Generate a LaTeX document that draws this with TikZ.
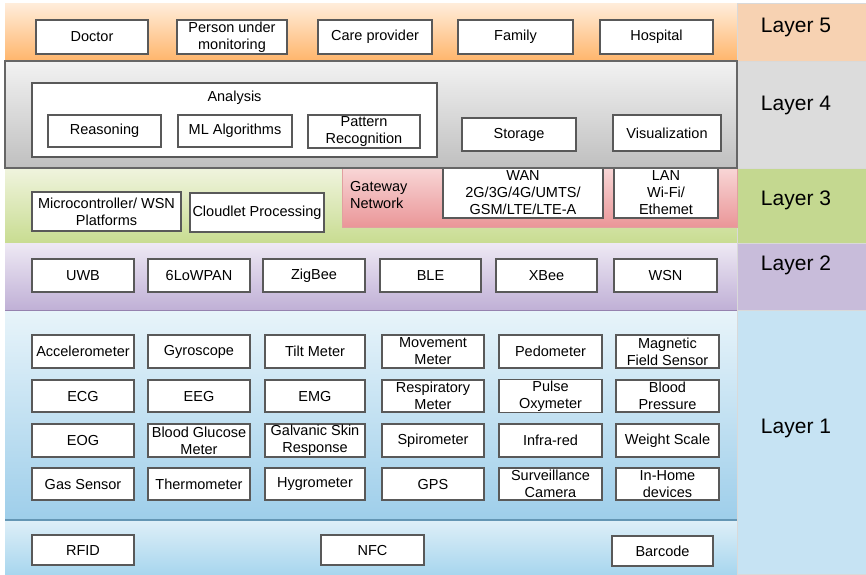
\documentclass[tikz,border=0pt]{standalone}
\usepackage{fontspec}
\setmainfont{Liberation Sans}
\begin{document}
\begin{tikzpicture}[x=1pt,y=-1pt,
  blk/.style={draw=black!65, line width=1.3pt, fill=white, align=center,
    inner sep=1pt, font=\fontsize{14.5}{17}\selectfont},
  txt/.style={inner sep=0pt, align=center, font=\fontsize{14.5}{17}\selectfont},
  layerlbl/.style={inner sep=0pt, font=\fontsize{21}{24}\selectfont},
  cell/.style={draw=black!15, line width=0.6pt}]
\useasboundingbox (0,0) rectangle (866,574);
% box given by its corners: name, x1, y1, x2, y2, text
\newcommand{\blk}[6]{\node[blk, minimum width={(#4-#2)*1pt}, minimum height={(#5-#3)*1pt}]
  (#1) at ({(#2+#4)/2},{(#3+#5)/2}) {#6};}

% ---- layer bands ----
\shade[top color=white!60!orange!35, bottom color=orange!58!white] (5,3) rectangle (737,61);
\shade[top color=black!5, bottom color=black!25] (5,61) rectangle (737,168);
\shade[top color={rgb,255:red,240;green,244;blue,222}, bottom color={rgb,255:red,200;green,220;blue,145}] (5,168) rectangle (737,243);
\shade[top color={rgb,255:red,238;green,233;blue,244}, bottom color={rgb,255:red,192;green,176;blue,214}] (5,243) rectangle (737,310);
\shade[top color={rgb,255:red,232;green,244;blue,250}, bottom color={rgb,255:red,158;green,206;blue,234}] (5,310) rectangle (737,520);
\shade[top color={rgb,255:red,222;green,239;blue,248}, bottom color={rgb,255:red,168;green,214;blue,238}] (5,520) rectangle (737,574);
\draw[line width=1.2pt, color={rgb,255:red,100;green,150;blue,180}] (5,520) -- (737,520);
\draw[line width=0.8pt, color={rgb,255:red,150;green,130;blue,175}] (5,310) -- (737,310);

% ---- right column ----
\fill[cell, fill={rgb,255:red,247;green,210;blue,178}] (737,3) rectangle (866,61);
\fill[cell, fill={rgb,255:red,220;green,220;blue,220}] (737,61) rectangle (866,168);
\fill[cell, fill={rgb,255:red,196;green,216;blue,144}] (737,168) rectangle (866,243);
\fill[cell, fill={rgb,255:red,200;green,188;blue,218}] (737,243) rectangle (866,310);
\fill[cell, fill={rgb,255:red,198;green,227;blue,243}] (737,310) rectangle (866,574);
\draw[black!15, line width=0.8pt] (737,3) -- (737,574)
  (737,61) -- (866,61) (737,168) -- (866,168) (737,243) -- (866,243) (737,310) -- (866,310);

\node[layerlbl] (l5) at (796,27) {Layer 5};
\node[layerlbl] (l4) at (796,105) {Layer 4};
\node[layerlbl] (l3) at (796,200) {Layer 3};
\node[layerlbl] (l2) at (796,265) {Layer 2};
\node[layerlbl] (l1) at (796,428) {Layer 1};

% ---- Layer 5 ----
\blk{doctor}{36}{20}{148}{54}{Doctor}
\blk{person}{177}{20}{287}{54}{Person under\\monitoring}
\blk{care}{318}{20}{432}{54}{Care provider}
\blk{family}{458}{20}{573}{54}{Family}
\blk{hospital}{600}{20}{713}{54}{Hospital}

% ---- Layer 4 ----
\blk{analysis}{32}{83}{437}{157}{}
\node[txt] (analysislbl) at (234.5,98) {Analysis};
\blk{reasoning}{48}{115}{161}{147}{Reasoning}
\blk{ml}{178}{115}{292}{147}{ML Algorithms}
\blk{pattern}{308}{115}{420}{148}{Pattern\\Recognition}
\blk{storage}{462}{118}{576}{151}{Storage}
\blk{visual}{613}{115}{721}{151}{Visualization}

% ---- Layer 3 ----
\blk{micro}{32}{192}{181}{231}{Microcontroller/ WSN\\Platforms}
\blk{cloudlet}{190}{193}{324}{232}{Cloudlet Processing}
\node[inner sep=0pt, minimum width=395pt, minimum height=59pt,
  top color={rgb,255:red,248;green,214;blue,214}, bottom color={rgb,255:red,234;green,150;blue,152},
  draw={rgb,255:red,225;green,160;blue,160}, line width=0.6pt] (gateway) at (539.5,197.5) {};
\node[txt, align=left, anchor=west] (gatewaylbl) at (350,195) {Gateway\\Network};
\blk{wan}{443}{168}{603}{218}{WAN\\2G/3G/4G/UMTS/\\GSM/LTE/LTE-A}
\blk{lan}{614}{168}{718}{218}{LAN\\Wi-Fi/\\Ethemet}

% frame of layer 4 drawn over the top edge of layer 3
\draw[black!60, line width=1.5pt] (5,61) rectangle (737,168);

% ---- Layer 2 ----
\blk{uwb}{32}{259}{134}{292}{UWB}
\blk{lowpan}{148}{259}{250}{292}{6LoWPAN}
\blk{zigbee}{263}{259}{365}{292}{ZigBee}
\blk{ble}{380}{259}{481}{292}{BLE}
\blk{xbee}{496}{259}{597}{292}{XBee}
\blk{wsn}{614}{259}{717}{292}{WSN}

% ---- Layer 1: sensors ----
\blk{s11}{32}{335}{134}{368}{Accelerometer}
\blk{s12}{148}{335}{250}{368}{Gyroscope}
\blk{s13}{265}{335}{365}{368}{Tilt Meter}
\blk{s14}{382}{335}{484}{368}{Movement\\Meter}
\blk{s15}{499}{335}{602}{368}{Pedometer}
\blk{s16}{616}{335}{719}{368}{Magnetic\\Field Sensor}

\blk{s21}{32}{380}{134}{412}{ECG}
\blk{s22}{148}{380}{250}{412}{EEG}
\blk{s23}{265}{380}{365}{412}{EMG}
\blk{s24}{382}{380}{484}{412}{Respiratory\\Meter}
\blk{s25}{499}{380}{602}{412}{Pulse\\Oxymeter}
\blk{s26}{616}{380}{719}{412}{Blood\\Pressure}

\blk{s31}{32}{424}{134}{457}{EOG}
\blk{s32}{148}{424}{250}{457}{Blood Glucose\\Meter}
\blk{s33}{265}{424}{365}{457}{Galvanic Skin\\Response}
\blk{s34}{382}{424}{484}{457}{Spirometer}
\blk{s35}{499}{424}{602}{457}{Infra-red}
\blk{s36}{616}{424}{719}{457}{Weight Scale}

\blk{s41}{32}{468}{134}{500}{Gas Sensor}
\blk{s42}{148}{468}{250}{500}{Thermometer}
\blk{s43}{265}{468}{365}{500}{Hygrometer}
\blk{s44}{382}{468}{484}{500}{GPS}
\blk{s45}{499}{468}{602}{500}{Surveillance\\Camera}
\blk{s46}{616}{468}{719}{500}{In-Home\\devices}

% ---- Layer 1: identification ----
\blk{rfid}{32}{535}{134}{565}{RFID}
\blk{nfc}{321}{535}{424}{565}{NFC}
\blk{barcode}{612}{536}{713}{566}{Barcode}
\end{tikzpicture}
\end{document}
